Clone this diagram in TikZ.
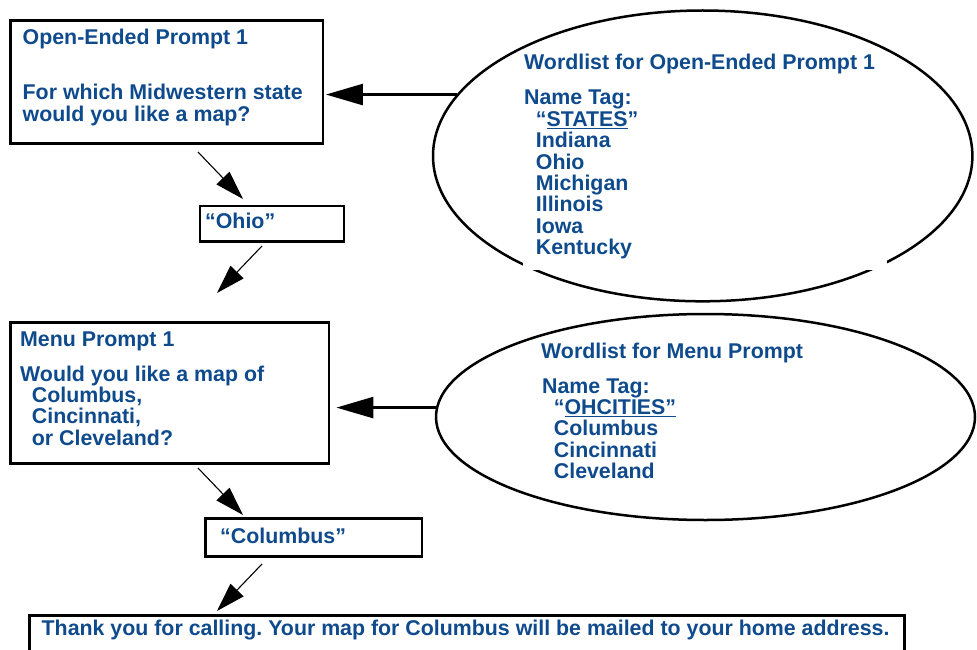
\documentclass[tikz,border=0pt]{standalone}
\usepackage{fontspec}
\setmainfont{Liberation Sans}
\usetikzlibrary{shapes.geometric,arrows.meta}
\definecolor{ink}{RGB}{14,74,140}
\frenchspacing
% stacked left-aligned lines; the baseline is that of the first line
\newcommand{\textlines}[1]{\vtop{\halign{##\hfil\cr#1\crcr}}}
% underline set just below the baseline
\newcommand{\tagline}[1]{\setbox0\hbox{#1}\rlap{\rule[-3pt]{\wd0}{1.1pt}}\box0}
\newcommand{\ind}{\kern11.7pt}
\begin{document}
\begin{tikzpicture}[x=1pt,y=-1pt,
  box/.style={draw, rectangle, line width=2.7pt, inner sep=0pt},
  wordlist/.style={draw, ellipse, line width=2.5pt, inner sep=0pt},
  txt/.style={anchor=base west, inner sep=0pt, text=ink,
    font=\fontsize{21.35}{21.4}\selectfont\bfseries},
  flow/.style={line width=1.1pt, -{Triangle[length=29pt,width=18pt]}},
  feed/.style={line width=2.5pt, -{Triangle[length=37pt,width=21pt]}}]
\useasboundingbox (0,0) rectangle (977,650);
\clip (0,0) rectangle (977,650);

% prompt and answer boxes
\node[box, minimum width=312.7pt, minimum height=122.6pt] (prompt1) at (166.7,82) {};
\node[box, minimum width=144pt, minimum height=35.3pt] (ohio) at (272,223.7) {};
\node[box, minimum width=318.7pt, minimum height=141.5pt] (menu1) at (169.7,393) {};
\node[box, minimum width=216.3pt, minimum height=37.8pt] (columbus) at (313.8,537.4) {};
\node[box, minimum width=875pt, minimum height=84.7pt] (thanks) at (467.2,657.65) {};

% wordlists
\node[wordlist, minimum width=539.4pt, minimum height=290.8pt] (states) at (702.7,155.9) {};
\node[wordlist, minimum width=539pt, minimum height=206pt] (cities) at (705.5,417) {};
% the first list's text panel masks part of its outline
\fill[white] (523,259) rectangle (887,269.5);

% texts
\node[txt] (prompt1title) at (22.5,45) {Open-Ended Prompt 1};
\node[txt] (prompt1text) at (22.5,100) {\textlines{For which Midwestern state\cr would you like a map?}};
\node[txt] (ohiotext) at (205,228) {“Ohio”};
\node[txt] (statestitle) at (524,70) {Wordlist for Open-Ended Prompt 1};
\node[txt] (stateslist) at (524,105) {\textlines{Name Tag:\cr
  \ind“\tagline{STATES}”\cr \ind Indiana\cr \ind Ohio\cr \ind Michigan\cr
  \ind Illinois\cr \ind Iowa\cr \ind Kentucky}};
\node[txt] (menu1title) at (20,346) {Menu Prompt 1};
\node[txt] (menu1text) at (20,381) {\textlines{Would you like a map of\cr
  \ind Columbus,\cr \ind Cincinnati,\cr \ind or Cleveland?}};
\node[txt] (citiestitle) at (541,358) {Wordlist for Menu Prompt};
\node[txt] (citieslist) at (542,393) {\textlines{Name Tag:\cr
  \ind“\tagline{OHCITIES”}\cr \ind Columbus\cr \ind Cincinnati\cr \ind Cleveland}};
\node[txt] (columbustext) at (220,543) {“Columbus”};
\node[txt] (thankstext) at (41.5,635) {Thank you for calling. Your map for Columbus will be mailed to your home address.};

% wordlists feed the prompts
\draw[feed, shorten >=1.5pt] (states.166.83) -- (states.166.83 -| prompt1.east);
\draw[feed, shorten >=6pt] (cities.178.08) -- (cities.178.08 -| menu1.east);

% dialogue flow
\coordinate (a1s) at (198,152); \coordinate (a1e) at (243,199);
\coordinate (a2s) at (262,246); \coordinate (a2e) at (217,293);
\coordinate (a3s) at (198,468); \coordinate (a3e) at (243,515);
\coordinate (a4s) at (262,564); \coordinate (a4e) at (217,611);
\draw[flow] (a1s) -- (a1e);
\draw[flow] (a2s) -- (a2e);
\draw[flow] (a3s) -- (a3e);
\draw[flow] (a4s) -- (a4e);
\end{tikzpicture}
\end{document}
